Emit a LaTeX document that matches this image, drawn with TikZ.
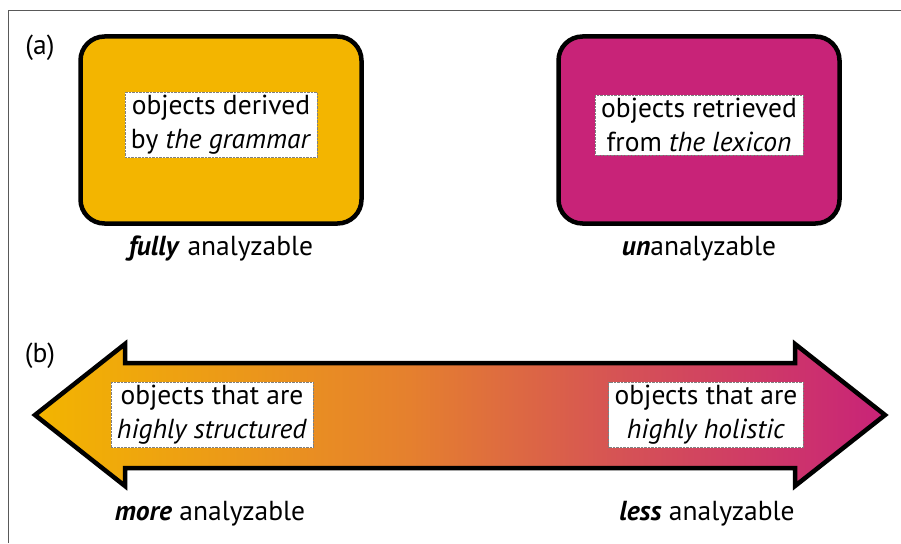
\documentclass[tikz,border=0pt]{standalone}
\usepackage{fontspec}
\setmainfont{PT Sans}
\usetikzlibrary{positioning}
\definecolor{gramorange}{RGB}{243,181,0}
\definecolor{midorange}{RGB}{229,128,46}
\definecolor{midred}{RGB}{214,84,84}
\definecolor{lexmagenta}{RGB}{200,35,120}
\pgfdeclarehorizontalshading{analyzshade}{100bp}{color(0bp)=(gramorange); color(25bp)=(gramorange); color(47bp)=(midorange); color(59bp)=(midred); color(75bp)=(lexmagenta); color(100bp)=(lexmagenta)}
\tikzstyle{panel} = [rectangle, rounded corners=24pt, draw=black, line width=4.5pt, minimum width=281pt, minimum height=187pt]
\tikzstyle{inner} = [rectangle, draw=gray, densely dotted, thin, fill=white, align=center, inner xsep=6pt, inner ysep=3pt, font=\fontsize{27.5}{34}\selectfont]
\tikzstyle{caption} = [font=\fontsize{27.5}{32}\selectfont]

\begin{document}
\begin{tikzpicture}[x=1pt,y=1pt]
  \useasboundingbox (0,0) rectangle (901,-543);
  \draw[gray!70!black, line width=1pt] (8,-543) -- (8,-11) -- (901,-11);

  % (a)
  \node[caption] (la) at (40,-48) {(a)};
  \node[panel, fill=gramorange] (gram) at (221,-130) {};
  \node[panel, fill=lexmagenta] (lex) at (699,-130) {};
  \node[inner] (gramtext) at (221,-125) {objects derived\\by \textit{the grammar}};
  \node[inner] (lextext) at (699,-125) {objects retrieved\\from \textit{the lexicon}};
  \node[caption, below=7pt of gram] (full) {\textbf{\textit{fully}} analyzable};
  \node[caption, below=7pt of lex] (unan) {\textbf{\textit{un}}analyzable};

  % (b)
  \node[caption] (lb) at (40,-356) {(b)};
  \shadedraw[shading=analyzshade, line width=4.5pt, line join=miter]
    (35,-415) -- (125,-344) -- (125,-363) -- (795,-363) -- (795,-344)
    -- (885,-415) -- (795,-486) -- (795,-468) -- (125,-468) -- (125,-486) -- cycle;
  \node[inner] (struct) at (212,-415) {objects that are\\\textit{highly structured}};
  \node[inner] (holist) at (706,-415) {objects that are\\\textit{highly holistic}};
  \node[caption] (more) at (210,-514) {\textbf{\textit{more}} analyzable};
  \node[caption] (less) at (707,-514) {\textbf{\textit{less}} analyzable};
\end{tikzpicture}
\end{document}
